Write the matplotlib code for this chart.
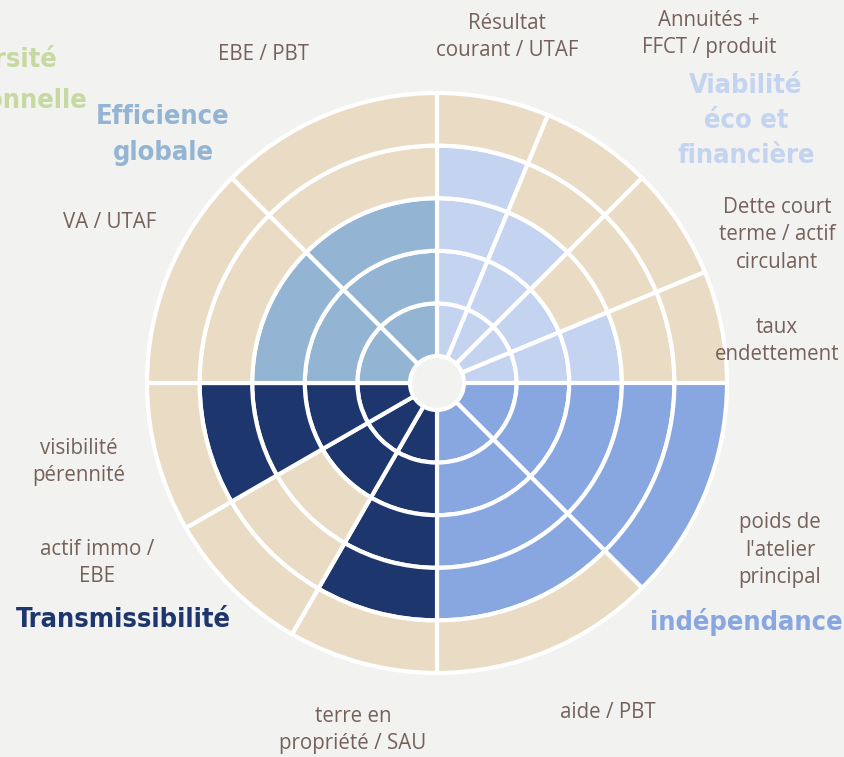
import numpy as np
import matplotlib
matplotlib.use("Agg")
import matplotlib.pyplot as plt

# ---- data ----
indicators = [
    "Résultat\ncourant / UTAF", "Annuités +\nFFCT / produit",
    "Dette court\nterme / actif\ncirculant", "taux\nendettement",
    "poids de\nl'atelier\nprincipal", "aide / PBT",
    "terre en\npropriété / SAU", "actif immo /\nEBE", "visibilité\npérennité",
    "VA / UTAF", "EBE / PBT",
]
scores = [4, 3, 2, 3, 5, 4, 4, 2, 4, 3, 3]
group_names = ["Viabilité\néco et\nfinancière", "indépendance", "Transmissibilité", "Efficience\nglobale"]
group_sizes = [4, 2, 3, 2]
group_colors = ["#c3d3f0", "#88a7e1", "#1d366d", "#94b4d3"]
n_levels = 5

# ---- style ----
W, H = 844, 757
BG = "#f2f2f0"
EMPTY = "#eadcc4"
TXT = "#76615a"
cx, cy = 437, 383
R_in, R_step = 27, 52.6
R_out = R_in + R_step * n_levels
pad = 3

fig = plt.figure(figsize=(W / 100, H / 100), dpi=100, facecolor=BG)
Rax = R_out + pad
ax = fig.add_axes([(cx - Rax) / W, (H - cy - Rax) / H, 2 * Rax / W, 2 * Rax / H],
                  projection="polar")
ax.set_theta_zero_location("N")
ax.set_theta_direction(-1)
ax.set_ylim(0, Rax)
ax.axis("off")
ax.patch.set_alpha(0)

# sector geometry from group sizes (each group spans a quarter)
thetas, widths, colors = [], [], []
start = 0.0
for size, col in zip(group_sizes, group_colors):
    w = (np.pi / 2) / size
    for k in range(size):
        thetas.append(start + w * (k + 0.5))
        widths.append(w)
        colors.append(col)
    start += np.pi / 2

for th, w, col, s in zip(thetas, widths, colors, scores):
    for lvl in range(n_levels):
        ax.bar(th, R_step, width=w, bottom=R_in + R_step * lvl,
               color=col if lvl < s else EMPTY, edgecolor="white",
               linewidth=3, clip_on=False)

def fx(x):
    return x / W

def fy(y):
    return 1 - y / H

# indicator labels (pixel positions of text centres)
label_pos = [(507, 37), (709, 34), (777, 235), (777, 341), (780, 550), (608, 712),
             (353, 730), (97, 563), (79, 462), (110, 222), (264, 55)]
for lab, (x, y) in zip(indicators, label_pos):
    fig.text(fx(x), fy(y), lab, ha="center", va="center", color=TXT,
             fontsize=14.8, family="Open Sans", linespacing=1.38)

title_font = dict(family="DejaVu Sans", weight="bold", stretch="condensed")
title_pos = [(746, 121), (746, 622), (123, 620), (163, 135)]
for name, col, (x, y) in zip(group_names, group_colors, title_pos):
    fig.text(fx(x), fy(y), name, ha="center", va="center", color=col,
             fontsize=19.5, linespacing=1.45, **title_font)

# partially cut-off group title at left edge
green = "#c6d9a0"
fig.text(fx(57), fy(60), "Diversité", ha="right", va="center", color=green,
         fontsize=19.5, **title_font)
fig.text(fx(87), fy(100), "opérationnelle", ha="right", va="center", color=green,
         fontsize=19.5, **title_font)

fig.savefig("out.png", dpi=100, facecolor=BG)
